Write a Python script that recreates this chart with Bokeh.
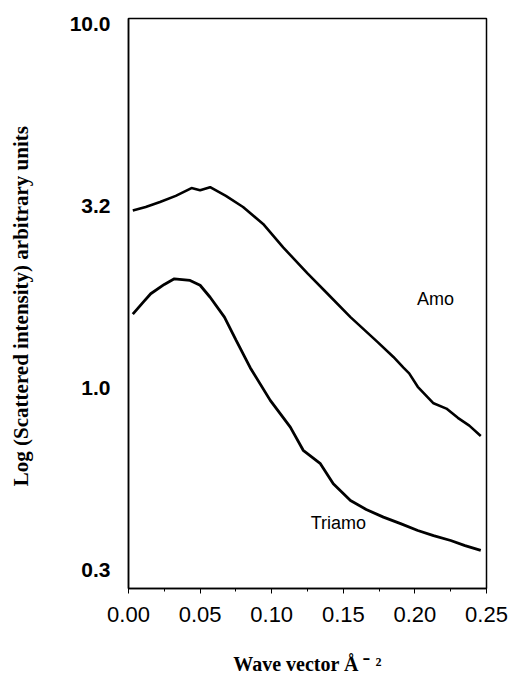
from bokeh.plotting import figure
from bokeh.models import Range1d, FixedTicker, CustomJSTickFormatter, Label
from bokeh.embed import file_html
from bokeh.resources import INLINE

# Amo curve (upper)
amo_x = [0.003, 0.012, 0.022, 0.033, 0.044, 0.050, 0.057, 0.068, 0.080, 0.094,
         0.108, 0.125, 0.139, 0.155, 0.174, 0.185, 0.192, 0.196, 0.202, 0.213,
         0.222, 0.230, 0.238, 0.246]
amo_y = [3.08, 3.15, 3.25, 3.38, 3.55, 3.50, 3.57, 3.38, 3.15, 2.83,
         2.44, 2.07, 1.82, 1.57, 1.34, 1.22, 1.14, 1.10, 1.01, 0.91,
         0.88, 0.83, 0.79, 0.74]

# Triamo curve (lower)
triamo_x = [0.003, 0.010, 0.0155, 0.025, 0.032, 0.043, 0.050, 0.057, 0.067, 0.075,
            0.085, 0.099, 0.113, 0.122, 0.134, 0.143, 0.155, 0.166, 0.178, 0.190,
            0.202, 0.213, 0.225, 0.235, 0.246]
triamo_y = [1.60, 1.72, 1.82, 1.93, 2.00, 1.98, 1.92, 1.78, 1.57, 1.36,
            1.14, 0.927, 0.783, 0.676, 0.621, 0.547, 0.492, 0.465, 0.443, 0.425,
            0.407, 0.394, 0.382, 0.370, 0.359]

x_ticks = [0.0, 0.05, 0.10, 0.15, 0.20, 0.25]
x_minor = [0.025, 0.075, 0.125, 0.175, 0.225]
y_ticks = [0.316228, 1.0, 3.162278, 10.0]

p = figure(width=511, height=685, output_backend="svg", toolbar_location=None,
           y_axis_type="log",
           x_range=Range1d(0.0, 0.25), y_range=Range1d(0.282, 10.38),
           min_border_left=128, min_border_right=25, min_border_top=18,
           min_border_bottom=97)

p.background_fill_color = "white"
p.border_fill_color = "white"
p.xgrid.visible = False
p.ygrid.visible = False
p.outline_line_color = "black"
p.outline_line_width = 1.5

p.line(amo_x, amo_y, line_color="black", line_width=2.6)
p.line(triamo_x, triamo_y, line_color="black", line_width=2.8)

# X axis
xa = p.xaxis[0]
xa.ticker = FixedTicker(ticks=x_ticks, minor_ticks=x_minor)
xa.formatter = CustomJSTickFormatter(code="return tick.toFixed(2)")
xa.axis_line_color = "black"
xa.axis_line_width = 1.5
xa.major_tick_in = 0
xa.major_tick_out = 5
xa.minor_tick_in = 0
xa.minor_tick_out = 3
xa.major_tick_line_color = "black"
xa.minor_tick_line_color = "black"
xa.major_label_standoff = 13
xa.major_label_text_font = "Liberation Sans"
xa.major_label_text_font_size = "22px"
xa.major_label_text_color = "black"
xa.axis_label = "Wave vector Å ⁻ ²"
xa.axis_label_text_font = "Liberation Serif"
xa.axis_label_text_font_style = "bold"
xa.axis_label_text_font_size = "20px"
xa.axis_label_text_color = "black"
xa.axis_label_standoff = 28

# Y axis
ya = p.yaxis[0]
ya.ticker = FixedTicker(ticks=y_ticks, minor_ticks=[])
ya.formatter = CustomJSTickFormatter(code="return tick.toFixed(1)")
ya.axis_line_color = "black"
ya.axis_line_width = 1.5
ya.major_tick_in = 0
ya.major_tick_out = 0
ya.minor_tick_in = 0
ya.minor_tick_out = 0
ya.major_label_standoff = 18
ya.major_label_text_font = "Liberation Sans"
ya.major_label_text_font_style = "bold"
ya.major_label_text_font_size = "21px"
ya.major_label_text_color = "black"
ya.axis_label = "Log (Scattered intensity)  arbitrary units"
ya.axis_label_text_font = "Liberation Serif"
ya.axis_label_text_font_style = "bold"
ya.axis_label_text_font_size = "21px"
ya.axis_label_text_color = "black"
ya.axis_label_standoff = 34

p.add_layout(Label(x=0.2144, y=1.756, text="Amo", text_align="center",
                   text_baseline="middle", text_font="Liberation Sans",
                   text_font_size="18px", text_color="black"))
p.add_layout(Label(x=0.1466, y=0.428, text="Triamo", text_align="center",
                   text_baseline="middle", text_font="Liberation Sans",
                   text_font_size="18px", text_color="black"))

open("out.html", "w").write(file_html(p, INLINE))
